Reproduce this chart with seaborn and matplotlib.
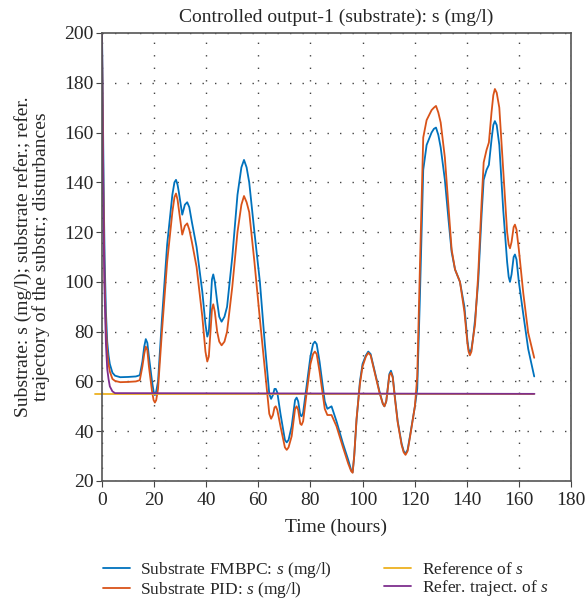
import matplotlib
matplotlib.use('Agg')
import matplotlib.pyplot as plt
import seaborn as sns
import pandas as pd

# time axis (hours) shared by both controlled outputs (10 values per row)
time_h = [0, 0.25, 0.5, 0.75, 1, 1.5, 2, 2.5, 3, 4,
          5, 7, 10, 13, 14.5, 15.5, 16.2, 16.8, 17.4, 18,
          19.2, 19.8, 20.3, 20.8, 21.5, 23, 25, 27, 27.8, 28.4,
          29, 29.5, 30.8, 31.8, 32.7, 33.5, 34.5, 36.3, 38.5, 39.7,
          40.4, 41, 41.5, 42.2, 42.7, 43.3, 44.2, 45, 45.9, 47,
          48, 50, 52, 53.5, 54.5, 55.5, 56.5, 58.5, 60.6, 62.5,
          64.2, 64.9, 65.6, 66.2, 66.7, 67.3, 68.5, 70.2, 70.9, 71.6,
          72.8, 74.1, 74.7, 75.3, 76.1, 76.6, 77.2, 78.5, 80, 81,
          81.7, 82.4, 83.5, 85.5, 86.5, 88.1, 90, 92.5, 94.5, 95.6,
          96.2, 96.8, 97.7, 99, 100, 101.3, 102.2, 103.1, 104, 106.5,
          107.8, 108.4, 109.1, 110.3, 110.9, 111.6, 112.5, 113.5, 115, 115.8,
          116.5, 117.3, 118.2, 120.1, 121, 122, 123.3, 124.6, 126.5, 127.4,
          128.2, 129.1, 130, 131.6, 133, 134.2, 135.5, 137.4, 139.1, 140.3,
          140.7, 141.2, 141.8, 142.5, 143.2, 144.4, 145.7, 146.5, 147.6, 148.5,
          149.5, 150.2, 150.8, 151.5, 152.5, 154, 155.5, 156.1, 156.6, 157.2,
          158, 158.5, 159.1, 160, 161.7, 163.6, 165.9]

s_fmbpc = [200, 175, 150, 128, 110, 88, 76, 70.5, 67, 63.5,
           62.3, 61.7, 61.8, 62, 62.5, 68, 74, 77, 75.5, 70,
           60, 56, 54.5, 56, 60, 85, 115, 135, 140, 141,
           139, 136, 127, 131, 132, 130, 124, 114, 96, 83,
           78, 80, 88, 101, 103, 100, 92, 86, 84, 86,
           90, 110, 135, 146, 149, 146, 140, 120, 100, 75,
           55, 53, 54.5, 57, 57, 55.5, 47, 36.5, 35.5, 36.5,
           42, 52.5, 53.5, 52, 46.5, 46, 47.5, 58, 70, 75,
           76, 75, 68, 52, 49, 50, 44, 35, 28.5, 24.5,
           23.5, 30, 44.5, 60, 67, 70.5, 72, 71, 67, 56,
           51, 50, 52, 63, 64.3, 62, 53, 44, 35, 32,
           31, 32.5, 38, 50, 57, 93, 145, 155, 160, 161.5,
           162, 159, 154, 141, 125, 112, 105, 100, 90, 76,
           73, 71.5, 73, 78, 85, 100, 127, 141, 145, 147,
           157, 163, 164.6, 163, 155, 129, 108, 102, 100, 103,
           110, 111, 109, 100, 87, 73, 62]

s_pid = [195, 165, 140, 118, 100, 82, 72, 67, 64, 61,
         60.2, 59.7, 59.8, 60, 60.5, 66, 71, 74, 72.5, 66,
         56, 52.5, 51.5, 52.5, 57, 80, 108, 128, 134, 135.5,
         133, 129, 119, 122.5, 123.5, 121, 116, 106, 86, 72,
         68, 70, 78, 89, 91, 88, 80, 76, 74.5, 76,
         80, 98, 120, 131, 134.5, 132, 128, 108, 85, 65,
         47, 45, 46.5, 49.5, 50, 48.5, 42, 33.5, 32.5, 33.5,
         38, 49, 50, 48.5, 43, 42.5, 44, 55, 67, 71,
         72, 71, 64, 49, 46.5, 46.5, 42, 33.5, 27, 24,
         23.3, 30, 45, 59, 66, 70, 71.5, 70.5, 66.5, 55.5,
         51, 50, 52, 62.5, 63.5, 61.5, 52.5, 43.5, 34.5, 31.5,
         30.5, 32, 37.5, 50, 62, 105, 158, 165, 169, 170,
         170.7, 168, 164, 150, 130, 113, 105, 100, 88, 75,
         72, 70.5, 72, 78, 83, 103, 132, 148, 153, 156,
         168, 175, 177.5, 176, 170, 145, 120, 115, 113.5, 116,
         122, 123, 121, 113, 95.5, 79.5, 69.5]

# reference of s and reference trajectory
ref_t = [-2.7, 166]
ref_s = [55, 55]
traj_t = [0, 0.25, 0.5, 0.75, 1, 1.5, 2, 2.5, 3, 4, 5, 166]
traj_s = [200, 160, 130, 110, 95, 75, 65, 61, 58, 56, 55.3, 55]

sns.set_style('ticks')
plt.rcParams['font.family'] = ['Liberation Serif', 'DejaVu Serif']
plt.rcParams['mathtext.fontset'] = 'custom'
plt.rcParams['mathtext.rm'] = 'Liberation Serif'
plt.rcParams['mathtext.it'] = 'Liberation Serif:italic'

df = pd.DataFrame({'t': time_h, 'fm': s_fmbpc, 'pid': s_pid})

fig = plt.figure(figsize=(5.88, 6.01), dpi=100)
ax = fig.add_axes([0.1735, 0.1997, 0.7975, 0.7454])

lw = 1.3
sns.lineplot(data=df, x='t', y='fm', color='#0072BD', lw=lw, ax=ax,
             label='Substrate FMBPC: $\\it{s}$ (mg/l)', sort=False)
sns.lineplot(data=df, x='t', y='pid', color='#D95319', lw=lw, ax=ax,
             label='Substrate PID: $\\it{s}$ (mg/l)', sort=False)
sns.lineplot(x=ref_t, y=ref_s, color='#EDB120', lw=lw, ax=ax,
             label='Reference of $\\it{s}$')
ax.lines[-1].set_clip_on(False)
sns.lineplot(x=traj_t, y=traj_s, color='#7E2F8E', lw=lw, ax=ax,
             label='Refer. traject. of $\\it{s}$')

ax.set_xlim(0, 180)
ax.set_ylim(20, 200)
ax.set_xticks(range(0, 181, 20))
ax.set_yticks(range(20, 201, 20))
ax.grid(True, linestyle=(0, (1, 8)), color='#444444', linewidth=1.0)
ax.tick_params(labelsize=14, direction='out', length=4, color='#444444')
ax.tick_params(axis='x', pad=4)
ax.tick_params(axis='y', pad=2)
for sp in ax.spines.values():
    sp.set_color('#555555')
    sp.set_linewidth(1.2)

ax.set_title('Controlled output-1 (substrate): s (mg/l)', fontsize=14, pad=8)
ax.set_xlabel('Time (hours)', fontsize=14, labelpad=7)
ax.set_ylabel('Substrate: s (mg/l); substrate refer.; refer.\ntrajectory of the substr.; disturbances',
              fontsize=14, labelpad=10, linespacing=1.0)

handles, labels = ax.get_legend_handles_labels()
ax.get_legend().remove()
fig.legend(handles, labels, ncol=2, loc='lower left',
           bbox_to_anchor=(103 / 588, 1 - 600 / 601), borderaxespad=0, borderpad=0,
           frameon=False, fontsize=12.5, handlelength=1.55, columnspacing=3.0,
           labelspacing=0.0, handletextpad=0.6)

plt.savefig('out.png', dpi=100)
